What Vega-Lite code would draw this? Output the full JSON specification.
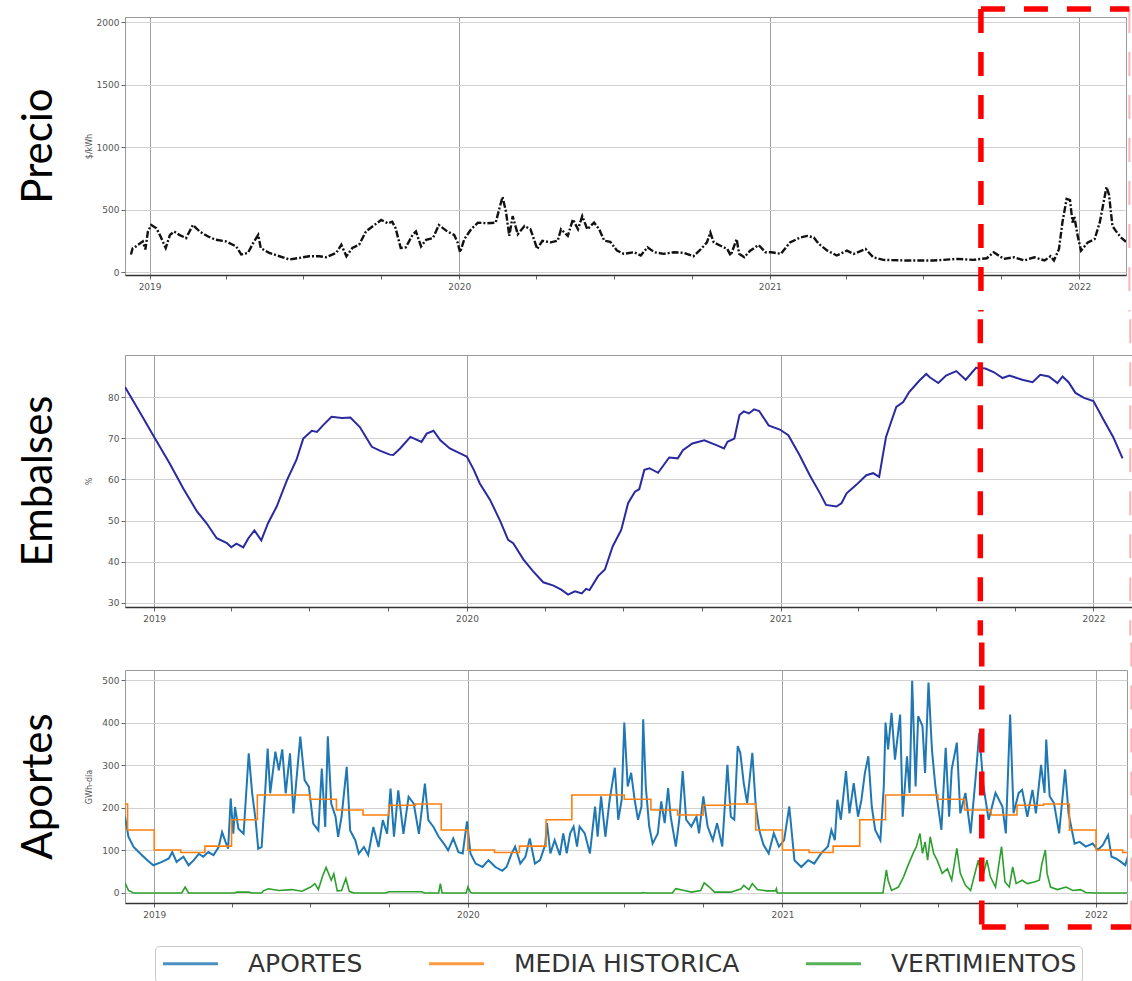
{
  "$schema": "https://vega.github.io/schema/vega-lite/v6.json",
  "background": "white",
  "padding": {"left": 17, "top": 5, "right": 0, "bottom": 0},
  "spacing": 0,
  "config": {
    "view": {"stroke": "#9a9a9a", "strokeWidth": 1},
    "axis": {"labelFont": "DejaVu Sans", "labelFontSize": 9, "labelColor": "#555", "tickColor": "#666", "tickSize": 4, "gridColor": "#d2d2d2", "domain": false, "titleFont": "DejaVu Sans", "titleFontSize": 8, "titleFontWeight": "normal", "titleColor": "#555"},
    "title": {"font": "Lato", "fontSize": 42, "fontWeight": "normal", "color": "#000"}
  },
  "datasets": {
    "precio": [
      {"fecha": "2018-12-10", "valor": 140}, {"fecha": "2018-12-12", "valor": 190}, {"fecha": "2018-12-16", "valor": 205}, {"fecha": "2018-12-24", "valor": 245}, {"fecha": "2018-12-27", "valor": 180}, {"fecha": "2018-12-30", "valor": 324},
      {"fecha": "2019-01-03", "valor": 376}, {"fecha": "2019-01-09", "valor": 350}, {"fecha": "2019-01-13", "valor": 297}, {"fecha": "2019-01-20", "valor": 192}, {"fecha": "2019-01-25", "valor": 297}, {"fecha": "2019-01-30", "valor": 324},
      {"fecha": "2019-02-05", "valor": 297}, {"fecha": "2019-02-13", "valor": 271}, {"fecha": "2019-02-21", "valor": 376}, {"fecha": "2019-03-01", "valor": 324}, {"fecha": "2019-03-11", "valor": 284}, {"fecha": "2019-03-20", "valor": 258},
      {"fecha": "2019-04-01", "valor": 245}, {"fecha": "2019-04-13", "valor": 205}, {"fecha": "2019-04-19", "valor": 140}, {"fecha": "2019-04-27", "valor": 153}, {"fecha": "2019-05-03", "valor": 231}, {"fecha": "2019-05-09", "valor": 297},
      {"fecha": "2019-05-12", "valor": 192}, {"fecha": "2019-05-22", "valor": 153}, {"fecha": "2019-06-03", "valor": 126}, {"fecha": "2019-06-15", "valor": 100}, {"fecha": "2019-06-27", "valor": 113}, {"fecha": "2019-07-08", "valor": 126},
      {"fecha": "2019-07-20", "valor": 126}, {"fecha": "2019-07-28", "valor": 118}, {"fecha": "2019-08-09", "valor": 153}, {"fecha": "2019-08-15", "valor": 218}, {"fecha": "2019-08-21", "valor": 126}, {"fecha": "2019-08-28", "valor": 192},
      {"fecha": "2019-09-05", "valor": 218}, {"fecha": "2019-09-13", "valor": 324}, {"fecha": "2019-09-23", "valor": 376}, {"fecha": "2019-10-01", "valor": 416}, {"fecha": "2019-10-09", "valor": 389}, {"fecha": "2019-10-14", "valor": 402},
      {"fecha": "2019-10-18", "valor": 350}, {"fecha": "2019-10-24", "valor": 192}, {"fecha": "2019-10-30", "valor": 197}, {"fecha": "2019-11-07", "valor": 297}, {"fecha": "2019-11-11", "valor": 324}, {"fecha": "2019-11-17", "valor": 205},
      {"fecha": "2019-11-23", "valor": 258}, {"fecha": "2019-12-01", "valor": 271}, {"fecha": "2019-12-08", "valor": 376}, {"fecha": "2019-12-18", "valor": 324}, {"fecha": "2019-12-26", "valor": 297}, {"fecha": "2019-12-30", "valor": 237},
      {"fecha": "2020-01-02", "valor": 158}, {"fecha": "2020-01-07", "valor": 263}, {"fecha": "2020-01-15", "valor": 342}, {"fecha": "2020-01-23", "valor": 395}, {"fecha": "2020-02-03", "valor": 390}, {"fecha": "2020-02-13", "valor": 395},
      {"fecha": "2020-02-17", "valor": 500}, {"fecha": "2020-02-21", "valor": 600}, {"fecha": "2020-02-25", "valor": 487}, {"fecha": "2020-02-29", "valor": 289}, {"fecha": "2020-03-04", "valor": 447}, {"fecha": "2020-03-10", "valor": 302},
      {"fecha": "2020-03-18", "valor": 368}, {"fecha": "2020-03-25", "valor": 342}, {"fecha": "2020-04-02", "valor": 184}, {"fecha": "2020-04-08", "valor": 250}, {"fecha": "2020-04-18", "valor": 237}, {"fecha": "2020-04-26", "valor": 250},
      {"fecha": "2020-04-30", "valor": 342}, {"fecha": "2020-05-08", "valor": 289}, {"fecha": "2020-05-14", "valor": 421}, {"fecha": "2020-05-20", "valor": 342}, {"fecha": "2020-05-25", "valor": 447}, {"fecha": "2020-05-31", "valor": 342},
      {"fecha": "2020-06-08", "valor": 395}, {"fecha": "2020-06-14", "valor": 342}, {"fecha": "2020-06-20", "valor": 250}, {"fecha": "2020-06-27", "valor": 242}, {"fecha": "2020-07-05", "valor": 171}, {"fecha": "2020-07-13", "valor": 145},
      {"fecha": "2020-07-25", "valor": 158}, {"fecha": "2020-08-02", "valor": 132}, {"fecha": "2020-08-10", "valor": 197}, {"fecha": "2020-08-18", "valor": 158}, {"fecha": "2020-08-29", "valor": 145}, {"fecha": "2020-09-10", "valor": 158},
      {"fecha": "2020-09-22", "valor": 153}, {"fecha": "2020-10-03", "valor": 126}, {"fecha": "2020-10-12", "valor": 184}, {"fecha": "2020-10-19", "valor": 237}, {"fecha": "2020-10-23", "valor": 316}, {"fecha": "2020-10-27", "valor": 237},
      {"fecha": "2020-11-04", "valor": 210}, {"fecha": "2020-11-12", "valor": 184}, {"fecha": "2020-11-16", "valor": 132}, {"fecha": "2020-11-23", "valor": 263}, {"fecha": "2020-11-26", "valor": 145}, {"fecha": "2020-12-02", "valor": 118},
      {"fecha": "2020-12-09", "valor": 171}, {"fecha": "2020-12-19", "valor": 216}, {"fecha": "2020-12-27", "valor": 158}, {"fecha": "2021-01-03", "valor": 158}, {"fecha": "2021-01-14", "valor": 145}, {"fecha": "2021-01-25", "valor": 237},
      {"fecha": "2021-02-06", "valor": 276}, {"fecha": "2021-02-14", "valor": 289}, {"fecha": "2021-02-22", "valor": 276}, {"fecha": "2021-02-28", "valor": 224}, {"fecha": "2021-03-10", "valor": 171}, {"fecha": "2021-03-21", "valor": 132},
      {"fecha": "2021-04-02", "valor": 171}, {"fecha": "2021-04-10", "valor": 145}, {"fecha": "2021-04-24", "valor": 184}, {"fecha": "2021-05-03", "valor": 118}, {"fecha": "2021-05-15", "valor": 97}, {"fecha": "2021-06-12", "valor": 92},
      {"fecha": "2021-07-13", "valor": 92}, {"fecha": "2021-08-10", "valor": 105}, {"fecha": "2021-08-29", "valor": 97}, {"fecha": "2021-09-14", "valor": 110}, {"fecha": "2021-09-22", "valor": 158}, {"fecha": "2021-10-04", "valor": 105},
      {"fecha": "2021-10-16", "valor": 118}, {"fecha": "2021-10-28", "valor": 92}, {"fecha": "2021-11-09", "valor": 118}, {"fecha": "2021-11-21", "valor": 92}, {"fecha": "2021-11-28", "valor": 126}, {"fecha": "2021-12-02", "valor": 92},
      {"fecha": "2021-12-08", "valor": 184}, {"fecha": "2021-12-12", "valor": 395}, {"fecha": "2021-12-17", "valor": 585}, {"fecha": "2021-12-21", "valor": 575}, {"fecha": "2021-12-24", "valor": 395}, {"fecha": "2021-12-26", "valor": 447},
      {"fecha": "2021-12-30", "valor": 289}, {"fecha": "2022-01-03", "valor": 171}, {"fecha": "2022-01-11", "valor": 237}, {"fecha": "2022-01-19", "valor": 263}, {"fecha": "2022-01-25", "valor": 395}, {"fecha": "2022-01-28", "valor": 500},
      {"fecha": "2022-02-02", "valor": 680}, {"fecha": "2022-02-05", "valor": 618}, {"fecha": "2022-02-09", "valor": 368}, {"fecha": "2022-02-13", "valor": 329}, {"fecha": "2022-02-19", "valor": 276}, {"fecha": "2022-02-25", "valor": 242}
    ],
    "embalses": [
      {"fecha": "2018-11-28", "valor": 82.4}, {"fecha": "2018-12-15", "valor": 76.4}, {"fecha": "2019-01-01", "valor": 70.3}, {"fecha": "2019-01-19", "valor": 63.9}, {"fecha": "2019-02-04", "valor": 57.8}, {"fecha": "2019-02-20", "valor": 52.2},
      {"fecha": "2019-03-03", "valor": 49.4}, {"fecha": "2019-03-15", "valor": 45.7}, {"fecha": "2019-03-27", "valor": 44.5}, {"fecha": "2019-04-01", "valor": 43.5}, {"fecha": "2019-04-07", "valor": 44.4}, {"fecha": "2019-04-15", "valor": 43.5},
      {"fecha": "2019-04-21", "valor": 45.7}, {"fecha": "2019-04-28", "valor": 47.6}, {"fecha": "2019-05-06", "valor": 45.2}, {"fecha": "2019-05-14", "valor": 49.4}, {"fecha": "2019-05-24", "valor": 53.4}, {"fecha": "2019-06-05", "valor": 59.8},
      {"fecha": "2019-06-16", "valor": 64.7}, {"fecha": "2019-06-24", "valor": 69.9}, {"fecha": "2019-07-04", "valor": 71.8}, {"fecha": "2019-07-10", "valor": 71.5}, {"fecha": "2019-07-17", "valor": 73.1}, {"fecha": "2019-07-27", "valor": 75.2},
      {"fecha": "2019-08-08", "valor": 74.9}, {"fecha": "2019-08-18", "valor": 75.0}, {"fecha": "2019-08-29", "valor": 72.7}, {"fecha": "2019-09-12", "valor": 67.9}, {"fecha": "2019-09-22", "valor": 66.9}, {"fecha": "2019-10-03", "valor": 66.0},
      {"fecha": "2019-10-07", "valor": 65.9}, {"fecha": "2019-10-15", "valor": 67.5}, {"fecha": "2019-10-27", "valor": 70.3}, {"fecha": "2019-11-09", "valor": 69.1}, {"fecha": "2019-11-15", "valor": 71.1}, {"fecha": "2019-11-23", "valor": 71.8},
      {"fecha": "2019-12-01", "valor": 69.5}, {"fecha": "2019-12-12", "valor": 67.5}, {"fecha": "2019-12-24", "valor": 66.3}, {"fecha": "2020-01-01", "valor": 65.5}, {"fecha": "2020-01-09", "valor": 62.3}, {"fecha": "2020-01-16", "valor": 59.0},
      {"fecha": "2020-01-28", "valor": 55.0}, {"fecha": "2020-02-09", "valor": 49.8}, {"fecha": "2020-02-18", "valor": 45.3}, {"fecha": "2020-02-24", "valor": 44.5}, {"fecha": "2020-03-07", "valor": 40.5}, {"fecha": "2020-03-18", "valor": 37.7},
      {"fecha": "2020-03-30", "valor": 35.0}, {"fecha": "2020-04-11", "valor": 34.2}, {"fecha": "2020-04-20", "valor": 33.2}, {"fecha": "2020-04-28", "valor": 32.0}, {"fecha": "2020-05-06", "valor": 32.8}, {"fecha": "2020-05-14", "valor": 32.3},
      {"fecha": "2020-05-19", "valor": 33.4}, {"fecha": "2020-05-23", "valor": 33.1}, {"fecha": "2020-06-02", "valor": 36.5}, {"fecha": "2020-06-10", "valor": 38.1}, {"fecha": "2020-06-19", "valor": 43.7}, {"fecha": "2020-06-29", "valor": 47.7},
      {"fecha": "2020-07-07", "valor": 54.2}, {"fecha": "2020-07-15", "valor": 57.0}, {"fecha": "2020-07-20", "valor": 57.6}, {"fecha": "2020-07-26", "valor": 62.3}, {"fecha": "2020-08-01", "valor": 62.7}, {"fecha": "2020-08-11", "valor": 61.6},
      {"fecha": "2020-08-24", "valor": 65.3}, {"fecha": "2020-09-03", "valor": 65.1}, {"fecha": "2020-09-09", "valor": 67.1}, {"fecha": "2020-09-20", "valor": 68.7}, {"fecha": "2020-10-04", "valor": 69.5}, {"fecha": "2020-10-18", "valor": 68.3},
      {"fecha": "2020-10-27", "valor": 67.5}, {"fecha": "2020-10-31", "valor": 69.1}, {"fecha": "2020-11-08", "valor": 69.9}, {"fecha": "2020-11-14", "valor": 75.6}, {"fecha": "2020-11-19", "valor": 76.5}, {"fecha": "2020-11-25", "valor": 76.0},
      {"fecha": "2020-12-01", "valor": 77.0}, {"fecha": "2020-12-07", "valor": 76.6}, {"fecha": "2020-12-18", "valor": 73.1}, {"fecha": "2020-12-31", "valor": 72.1}, {"fecha": "2021-01-10", "valor": 70.7}, {"fecha": "2021-01-23", "valor": 65.9},
      {"fecha": "2021-02-04", "valor": 61.0}, {"fecha": "2021-02-16", "valor": 56.6}, {"fecha": "2021-02-23", "valor": 53.8}, {"fecha": "2021-03-07", "valor": 53.4}, {"fecha": "2021-03-13", "valor": 54.2}, {"fecha": "2021-03-19", "valor": 56.6},
      {"fecha": "2021-03-30", "valor": 58.6}, {"fecha": "2021-04-11", "valor": 61.0}, {"fecha": "2021-04-19", "valor": 61.5}, {"fecha": "2021-04-26", "valor": 60.6}, {"fecha": "2021-04-30", "valor": 65.5}, {"fecha": "2021-05-04", "valor": 70.3},
      {"fecha": "2021-05-10", "valor": 74.0}, {"fecha": "2021-05-16", "valor": 77.6}, {"fecha": "2021-05-24", "valor": 78.8}, {"fecha": "2021-05-31", "valor": 81.2}, {"fecha": "2021-06-12", "valor": 84.0}, {"fecha": "2021-06-20", "valor": 85.6},
      {"fecha": "2021-06-24", "valor": 84.8}, {"fecha": "2021-07-04", "valor": 83.4}, {"fecha": "2021-07-13", "valor": 85.2}, {"fecha": "2021-07-25", "valor": 86.3}, {"fecha": "2021-08-05", "valor": 84.2}, {"fecha": "2021-08-17", "valor": 87.1},
      {"fecha": "2021-08-28", "valor": 86.9}, {"fecha": "2021-09-07", "valor": 86.0}, {"fecha": "2021-09-17", "valor": 84.6}, {"fecha": "2021-09-25", "valor": 85.2}, {"fecha": "2021-10-10", "valor": 84.2}, {"fecha": "2021-10-22", "valor": 83.6},
      {"fecha": "2021-10-31", "valor": 85.4}, {"fecha": "2021-11-10", "valor": 85.0}, {"fecha": "2021-11-20", "valor": 83.4}, {"fecha": "2021-11-26", "valor": 85.0}, {"fecha": "2021-12-03", "valor": 83.6}, {"fecha": "2021-12-11", "valor": 81.0},
      {"fecha": "2021-12-21", "valor": 79.8}, {"fecha": "2022-01-01", "valor": 79.0}, {"fecha": "2022-01-12", "valor": 74.8}, {"fecha": "2022-01-24", "valor": 70.3}, {"fecha": "2022-02-04", "valor": 65.1}
    ],
    "aportes": [
      {"fecha": "2018-11-28", "valor": 179}, {"fecha": "2018-12-02", "valor": 132}, {"fecha": "2018-12-08", "valor": 108}, {"fecha": "2018-12-16", "valor": 92}, {"fecha": "2018-12-24", "valor": 77}, {"fecha": "2018-12-31", "valor": 65},
      {"fecha": "2019-01-10", "valor": 73}, {"fecha": "2019-01-18", "valor": 81}, {"fecha": "2019-01-22", "valor": 96}, {"fecha": "2019-01-27", "valor": 73}, {"fecha": "2019-02-04", "valor": 85}, {"fecha": "2019-02-10", "valor": 65},
      {"fecha": "2019-02-16", "valor": 77}, {"fecha": "2019-02-22", "valor": 92}, {"fecha": "2019-02-27", "valor": 85}, {"fecha": "2019-03-05", "valor": 96}, {"fecha": "2019-03-11", "valor": 89}, {"fecha": "2019-03-17", "valor": 108},
      {"fecha": "2019-03-21", "valor": 143}, {"fecha": "2019-03-25", "valor": 120}, {"fecha": "2019-03-28", "valor": 104}, {"fecha": "2019-03-31", "valor": 222}, {"fecha": "2019-04-03", "valor": 139}, {"fecha": "2019-04-05", "valor": 202},
      {"fecha": "2019-04-09", "valor": 151}, {"fecha": "2019-04-15", "valor": 139}, {"fecha": "2019-04-21", "valor": 328}, {"fecha": "2019-04-25", "valor": 234}, {"fecha": "2019-04-29", "valor": 171}, {"fecha": "2019-05-02", "valor": 104},
      {"fecha": "2019-05-06", "valor": 108}, {"fecha": "2019-05-10", "valor": 234}, {"fecha": "2019-05-13", "valor": 339}, {"fecha": "2019-05-16", "valor": 234}, {"fecha": "2019-05-22", "valor": 332}, {"fecha": "2019-05-26", "valor": 288},
      {"fecha": "2019-05-30", "valor": 337}, {"fecha": "2019-06-03", "valor": 234}, {"fecha": "2019-06-08", "valor": 328}, {"fecha": "2019-06-12", "valor": 187}, {"fecha": "2019-06-20", "valor": 367}, {"fecha": "2019-06-25", "valor": 265},
      {"fecha": "2019-06-30", "valor": 249}, {"fecha": "2019-07-05", "valor": 163}, {"fecha": "2019-07-11", "valor": 147}, {"fecha": "2019-07-15", "valor": 292}, {"fecha": "2019-07-19", "valor": 155}, {"fecha": "2019-07-22", "valor": 368},
      {"fecha": "2019-07-26", "valor": 210}, {"fecha": "2019-07-31", "valor": 179}, {"fecha": "2019-08-03", "valor": 132}, {"fecha": "2019-08-07", "valor": 179}, {"fecha": "2019-08-13", "valor": 296}, {"fecha": "2019-08-17", "valor": 147},
      {"fecha": "2019-08-23", "valor": 124}, {"fecha": "2019-08-27", "valor": 92}, {"fecha": "2019-09-02", "valor": 108}, {"fecha": "2019-09-07", "valor": 89}, {"fecha": "2019-09-13", "valor": 155}, {"fecha": "2019-09-19", "valor": 108},
      {"fecha": "2019-09-24", "valor": 171}, {"fecha": "2019-09-29", "valor": 139}, {"fecha": "2019-10-03", "valor": 245}, {"fecha": "2019-10-07", "valor": 132}, {"fecha": "2019-10-12", "valor": 241}, {"fecha": "2019-10-18", "valor": 139},
      {"fecha": "2019-10-24", "valor": 226}, {"fecha": "2019-10-30", "valor": 210}, {"fecha": "2019-11-05", "valor": 139}, {"fecha": "2019-11-12", "valor": 257}, {"fecha": "2019-11-16", "valor": 171}, {"fecha": "2019-11-22", "valor": 155},
      {"fecha": "2019-11-28", "valor": 132}, {"fecha": "2019-12-04", "valor": 116}, {"fecha": "2019-12-09", "valor": 100}, {"fecha": "2019-12-15", "valor": 128}, {"fecha": "2019-12-21", "valor": 96}, {"fecha": "2019-12-26", "valor": 93},
      {"fecha": "2019-12-31", "valor": 168}, {"fecha": "2020-01-04", "valor": 93}, {"fecha": "2020-01-10", "valor": 69}, {"fecha": "2020-01-18", "valor": 61}, {"fecha": "2020-01-25", "valor": 77}, {"fecha": "2020-02-02", "valor": 61},
      {"fecha": "2020-02-10", "valor": 52}, {"fecha": "2020-02-15", "valor": 61}, {"fecha": "2020-02-21", "valor": 93}, {"fecha": "2020-02-25", "valor": 109}, {"fecha": "2020-03-02", "valor": 69}, {"fecha": "2020-03-08", "valor": 85},
      {"fecha": "2020-03-13", "valor": 128}, {"fecha": "2020-03-19", "valor": 69}, {"fecha": "2020-03-25", "valor": 77}, {"fecha": "2020-03-31", "valor": 113}, {"fecha": "2020-04-02", "valor": 164}, {"fecha": "2020-04-06", "valor": 93},
      {"fecha": "2020-04-11", "valor": 124}, {"fecha": "2020-04-17", "valor": 89}, {"fecha": "2020-04-21", "valor": 140}, {"fecha": "2020-04-25", "valor": 93}, {"fecha": "2020-04-29", "valor": 140}, {"fecha": "2020-05-03", "valor": 156},
      {"fecha": "2020-05-07", "valor": 109}, {"fecha": "2020-05-10", "valor": 156}, {"fecha": "2020-05-16", "valor": 140}, {"fecha": "2020-05-22", "valor": 93}, {"fecha": "2020-05-28", "valor": 203}, {"fecha": "2020-05-31", "valor": 132},
      {"fecha": "2020-06-04", "valor": 227}, {"fecha": "2020-06-09", "valor": 132}, {"fecha": "2020-06-14", "valor": 219}, {"fecha": "2020-06-20", "valor": 294}, {"fecha": "2020-06-24", "valor": 172}, {"fecha": "2020-06-28", "valor": 219},
      {"fecha": "2020-07-01", "valor": 400}, {"fecha": "2020-07-05", "valor": 250}, {"fecha": "2020-07-09", "valor": 282}, {"fecha": "2020-07-13", "valor": 219}, {"fecha": "2020-07-17", "valor": 172}, {"fecha": "2020-07-21", "valor": 203},
      {"fecha": "2020-07-23", "valor": 408}, {"fecha": "2020-07-26", "valor": 250}, {"fecha": "2020-07-30", "valor": 156}, {"fecha": "2020-08-03", "valor": 116}, {"fecha": "2020-08-09", "valor": 140}, {"fecha": "2020-08-13", "valor": 215},
      {"fecha": "2020-08-17", "valor": 164}, {"fecha": "2020-08-21", "valor": 246}, {"fecha": "2020-08-24", "valor": 179}, {"fecha": "2020-08-30", "valor": 109}, {"fecha": "2020-09-03", "valor": 172}, {"fecha": "2020-09-07", "valor": 286},
      {"fecha": "2020-09-11", "valor": 172}, {"fecha": "2020-09-17", "valor": 156}, {"fecha": "2020-09-23", "valor": 179}, {"fecha": "2020-09-26", "valor": 140}, {"fecha": "2020-10-01", "valor": 227}, {"fecha": "2020-10-06", "valor": 156},
      {"fecha": "2020-10-12", "valor": 124}, {"fecha": "2020-10-17", "valor": 164}, {"fecha": "2020-10-23", "valor": 109}, {"fecha": "2020-10-29", "valor": 301}, {"fecha": "2020-11-02", "valor": 179}, {"fecha": "2020-11-06", "valor": 172},
      {"fecha": "2020-11-10", "valor": 345}, {"fecha": "2020-11-13", "valor": 329}, {"fecha": "2020-11-17", "valor": 258}, {"fecha": "2020-11-21", "valor": 211}, {"fecha": "2020-11-27", "valor": 329}, {"fecha": "2020-12-01", "valor": 203},
      {"fecha": "2020-12-05", "valor": 148}, {"fecha": "2020-12-10", "valor": 113}, {"fecha": "2020-12-16", "valor": 93}, {"fecha": "2020-12-22", "valor": 140}, {"fecha": "2020-12-28", "valor": 109}, {"fecha": "2021-01-03", "valor": 124},
      {"fecha": "2021-01-09", "valor": 203}, {"fecha": "2021-01-15", "valor": 77}, {"fecha": "2021-01-23", "valor": 61}, {"fecha": "2021-01-31", "valor": 77}, {"fecha": "2021-02-07", "valor": 69}, {"fecha": "2021-02-15", "valor": 93},
      {"fecha": "2021-02-23", "valor": 109}, {"fecha": "2021-02-27", "valor": 148}, {"fecha": "2021-03-03", "valor": 124}, {"fecha": "2021-03-06", "valor": 219}, {"fecha": "2021-03-10", "valor": 172}, {"fecha": "2021-03-16", "valor": 286},
      {"fecha": "2021-03-20", "valor": 187}, {"fecha": "2021-03-25", "valor": 258}, {"fecha": "2021-03-30", "valor": 179}, {"fecha": "2021-04-03", "valor": 219}, {"fecha": "2021-04-07", "valor": 282}, {"fecha": "2021-04-11", "valor": 321},
      {"fecha": "2021-04-15", "valor": 203}, {"fecha": "2021-04-19", "valor": 148}, {"fecha": "2021-04-25", "valor": 124}, {"fecha": "2021-04-29", "valor": 250}, {"fecha": "2021-05-01", "valor": 400}, {"fecha": "2021-05-04", "valor": 337},
      {"fecha": "2021-05-08", "valor": 423}, {"fecha": "2021-05-12", "valor": 313}, {"fecha": "2021-05-18", "valor": 419}, {"fecha": "2021-05-21", "valor": 179}, {"fecha": "2021-05-26", "valor": 321}, {"fecha": "2021-05-29", "valor": 235},
      {"fecha": "2021-06-01", "valor": 498}, {"fecha": "2021-06-05", "valor": 250}, {"fecha": "2021-06-08", "valor": 415}, {"fecha": "2021-06-13", "valor": 392}, {"fecha": "2021-06-16", "valor": 282}, {"fecha": "2021-06-20", "valor": 494},
      {"fecha": "2021-06-24", "valor": 337}, {"fecha": "2021-06-28", "valor": 250}, {"fecha": "2021-07-05", "valor": 148}, {"fecha": "2021-07-10", "valor": 341}, {"fecha": "2021-07-14", "valor": 179}, {"fecha": "2021-07-17", "valor": 290},
      {"fecha": "2021-07-23", "valor": 353}, {"fecha": "2021-07-27", "valor": 187}, {"fecha": "2021-08-02", "valor": 235}, {"fecha": "2021-08-08", "valor": 140}, {"fecha": "2021-08-14", "valor": 274}, {"fecha": "2021-08-18", "valor": 376},
      {"fecha": "2021-08-23", "valor": 250}, {"fecha": "2021-08-29", "valor": 172}, {"fecha": "2021-09-06", "valor": 235}, {"fecha": "2021-09-14", "valor": 203}, {"fecha": "2021-09-18", "valor": 140}, {"fecha": "2021-09-23", "valor": 419},
      {"fecha": "2021-09-27", "valor": 187}, {"fecha": "2021-10-03", "valor": 235}, {"fecha": "2021-10-07", "valor": 242}, {"fecha": "2021-10-13", "valor": 179}, {"fecha": "2021-10-19", "valor": 242}, {"fecha": "2021-10-23", "valor": 187},
      {"fecha": "2021-10-29", "valor": 301}, {"fecha": "2021-11-02", "valor": 235}, {"fecha": "2021-11-04", "valor": 360}, {"fecha": "2021-11-08", "valor": 227}, {"fecha": "2021-11-13", "valor": 211}, {"fecha": "2021-11-19", "valor": 140},
      {"fecha": "2021-11-26", "valor": 290}, {"fecha": "2021-11-30", "valor": 187}, {"fecha": "2021-12-07", "valor": 116}, {"fecha": "2021-12-13", "valor": 120}, {"fecha": "2021-12-20", "valor": 109}, {"fecha": "2021-12-28", "valor": 116},
      {"fecha": "2022-01-03", "valor": 101}, {"fecha": "2022-01-09", "valor": 113}, {"fecha": "2022-01-15", "valor": 136}, {"fecha": "2022-01-19", "valor": 85}, {"fecha": "2022-01-24", "valor": 81}, {"fecha": "2022-01-30", "valor": 73},
      {"fecha": "2022-02-04", "valor": 65}, {"fecha": "2022-02-08", "valor": 93}
    ],
    "media": [
      {"fecha": "2018-11-28", "valor": 209}, {"fecha": "2018-12-01", "valor": 148},
      {"fecha": "2019-01-01", "valor": 101}, {"fecha": "2019-02-01", "valor": 95}, {"fecha": "2019-03-01", "valor": 110}, {"fecha": "2019-04-01", "valor": 172}, {"fecha": "2019-05-01", "valor": 230}, {"fecha": "2019-06-01", "valor": 230},
      {"fecha": "2019-07-01", "valor": 220}, {"fecha": "2019-08-01", "valor": 195}, {"fecha": "2019-09-01", "valor": 183}, {"fecha": "2019-10-01", "valor": 206}, {"fecha": "2019-11-01", "valor": 209}, {"fecha": "2019-12-01", "valor": 148},
      {"fecha": "2020-01-01", "valor": 101}, {"fecha": "2020-02-01", "valor": 95}, {"fecha": "2020-03-01", "valor": 110}, {"fecha": "2020-04-01", "valor": 172}, {"fecha": "2020-05-01", "valor": 230}, {"fecha": "2020-06-01", "valor": 230},
      {"fecha": "2020-07-01", "valor": 220}, {"fecha": "2020-08-01", "valor": 195}, {"fecha": "2020-09-01", "valor": 183}, {"fecha": "2020-10-01", "valor": 206}, {"fecha": "2020-11-01", "valor": 209}, {"fecha": "2020-12-01", "valor": 148},
      {"fecha": "2021-01-01", "valor": 101}, {"fecha": "2021-02-01", "valor": 95}, {"fecha": "2021-03-01", "valor": 110}, {"fecha": "2021-04-01", "valor": 172}, {"fecha": "2021-05-01", "valor": 230}, {"fecha": "2021-06-01", "valor": 230},
      {"fecha": "2021-07-01", "valor": 220}, {"fecha": "2021-08-01", "valor": 195}, {"fecha": "2021-09-01", "valor": 183}, {"fecha": "2021-10-01", "valor": 206}, {"fecha": "2021-11-01", "valor": 209}, {"fecha": "2021-12-01", "valor": 148},
      {"fecha": "2022-01-01", "valor": 101}, {"fecha": "2022-02-01", "valor": 95}, {"fecha": "2022-02-08", "valor": 95}
    ],
    "vertimientos": [
      {"fecha": "2018-11-28", "valor": 24}, {"fecha": "2018-12-02", "valor": 6}, {"fecha": "2018-12-08", "valor": 0}, {"fecha": "2019-02-02", "valor": 0}, {"fecha": "2019-02-06", "valor": 14}, {"fecha": "2019-02-10", "valor": 0},
      {"fecha": "2019-04-05", "valor": 0}, {"fecha": "2019-04-07", "valor": 2}, {"fecha": "2019-04-21", "valor": 2}, {"fecha": "2019-04-25", "valor": 0}, {"fecha": "2019-05-06", "valor": 0}, {"fecha": "2019-05-08", "valor": 5},
      {"fecha": "2019-05-14", "valor": 10}, {"fecha": "2019-05-26", "valor": 6}, {"fecha": "2019-06-10", "valor": 8}, {"fecha": "2019-06-22", "valor": 4}, {"fecha": "2019-07-02", "valor": 14}, {"fecha": "2019-07-07", "valor": 22},
      {"fecha": "2019-07-11", "valor": 8}, {"fecha": "2019-07-16", "valor": 40}, {"fecha": "2019-07-20", "valor": 60}, {"fecha": "2019-07-23", "valor": 45}, {"fecha": "2019-07-26", "valor": 30}, {"fecha": "2019-07-29", "valor": 45},
      {"fecha": "2019-08-02", "valor": 5}, {"fecha": "2019-08-07", "valor": 6}, {"fecha": "2019-08-12", "valor": 34}, {"fecha": "2019-08-16", "valor": 4}, {"fecha": "2019-08-21", "valor": 0}, {"fecha": "2019-09-27", "valor": 0},
      {"fecha": "2019-10-01", "valor": 3}, {"fecha": "2019-11-08", "valor": 3}, {"fecha": "2019-11-12", "valor": 0}, {"fecha": "2019-11-28", "valor": 0}, {"fecha": "2019-11-30", "valor": 22}, {"fecha": "2019-12-02", "valor": 0},
      {"fecha": "2019-12-30", "valor": 0}, {"fecha": "2020-01-01", "valor": 14}, {"fecha": "2020-01-04", "valor": 2}, {"fecha": "2020-01-06", "valor": 0}, {"fecha": "2020-07-21", "valor": 0}, {"fecha": "2020-07-23", "valor": 1},
      {"fecha": "2020-07-26", "valor": 0}, {"fecha": "2020-08-26", "valor": 0}, {"fecha": "2020-08-28", "valor": 6}, {"fecha": "2020-08-30", "valor": 10}, {"fecha": "2020-09-09", "valor": 6}, {"fecha": "2020-09-17", "valor": 2},
      {"fecha": "2020-09-28", "valor": 6}, {"fecha": "2020-10-02", "valor": 24}, {"fecha": "2020-10-08", "valor": 14}, {"fecha": "2020-10-14", "valor": 2}, {"fecha": "2020-11-02", "valor": 2}, {"fecha": "2020-11-14", "valor": 10},
      {"fecha": "2020-11-17", "valor": 18}, {"fecha": "2020-11-23", "valor": 8}, {"fecha": "2020-11-27", "valor": 22}, {"fecha": "2020-12-03", "valor": 8}, {"fecha": "2020-12-14", "valor": 5}, {"fecha": "2020-12-24", "valor": 5},
      {"fecha": "2020-12-25", "valor": 10}, {"fecha": "2020-12-26", "valor": 0}, {"fecha": "2021-04-28", "valor": 0}, {"fecha": "2021-05-02", "valor": 54}, {"fecha": "2021-05-04", "valor": 30}, {"fecha": "2021-05-08", "valor": 6},
      {"fecha": "2021-05-16", "valor": 14}, {"fecha": "2021-05-22", "valor": 38}, {"fecha": "2021-05-28", "valor": 69}, {"fecha": "2021-06-03", "valor": 97}, {"fecha": "2021-06-06", "valor": 109}, {"fecha": "2021-06-10", "valor": 140},
      {"fecha": "2021-06-13", "valor": 93}, {"fecha": "2021-06-16", "valor": 120}, {"fecha": "2021-06-19", "valor": 77}, {"fecha": "2021-06-22", "valor": 132}, {"fecha": "2021-06-26", "valor": 93}, {"fecha": "2021-06-30", "valor": 77},
      {"fecha": "2021-07-06", "valor": 46}, {"fecha": "2021-07-12", "valor": 57}, {"fecha": "2021-07-17", "valor": 30}, {"fecha": "2021-07-23", "valor": 105}, {"fecha": "2021-07-27", "valor": 46}, {"fecha": "2021-08-02", "valor": 18},
      {"fecha": "2021-08-08", "valor": 6}, {"fecha": "2021-08-12", "valor": 38}, {"fecha": "2021-08-17", "valor": 77}, {"fecha": "2021-08-21", "valor": 30}, {"fecha": "2021-08-27", "valor": 77}, {"fecha": "2021-08-31", "valor": 38},
      {"fecha": "2021-09-06", "valor": 14}, {"fecha": "2021-09-10", "valor": 69}, {"fecha": "2021-09-13", "valor": 109}, {"fecha": "2021-09-17", "valor": 26}, {"fecha": "2021-09-22", "valor": 14}, {"fecha": "2021-09-26", "valor": 61},
      {"fecha": "2021-09-30", "valor": 22}, {"fecha": "2021-10-07", "valor": 30}, {"fecha": "2021-10-13", "valor": 22}, {"fecha": "2021-10-21", "valor": 26}, {"fecha": "2021-10-27", "valor": 30}, {"fecha": "2021-10-30", "valor": 69},
      {"fecha": "2021-11-03", "valor": 101}, {"fecha": "2021-11-05", "valor": 46}, {"fecha": "2021-11-09", "valor": 14}, {"fecha": "2021-11-17", "valor": 8}, {"fecha": "2021-11-27", "valor": 14}, {"fecha": "2021-12-05", "valor": 6},
      {"fecha": "2021-12-14", "valor": 8}, {"fecha": "2021-12-20", "valor": 1}, {"fecha": "2022-01-01", "valor": 0}, {"fecha": "2022-02-08", "valor": 0}
    ]
  },
  "vconcat": [
    {
      "width": 1001,
      "height": 258,
      "title": {"text": "Precio", "orient": "left", "offset": 24},
      "layer": [
        {
          "data": {"name": "precio"},
          "mark": {"type": "line", "color": "#111111", "strokeWidth": 2.4, "strokeDash": [7, 2, 2, 2], "clip": true},
          "encoding": {
            "x": {"field": "fecha", "type": "temporal", "scale": {"type": "utc", "domain": [{"year": 2018, "month": 12, "date": 3, "utc": true}, {"year": 2022, "month": 2, "date": 25, "utc": true}]},
              "axis": {"title": null, "tickCount": {"interval": "month", "step": 3}, "labelExpr": "utcmonth(datum.value) == 0 ? utcFormat(datum.value, '%Y') : ''", "grid": true, "gridColor": "#a0a0a0", "gridOpacity": {"condition": {"test": "utcmonth(datum.value) == 0", "value": 1}, "value": 0}, "domain": true, "domainColor": "#333", "domainWidth": 1.5, "labelPadding": 3, "labelFlush": false}},
            "y": {"field": "valor", "type": "quantitative", "title": "$/kWh", "scale": {"domain": [-24, 2040], "nice": false, "zero": false},
              "axis": {"values": [0, 250, 500, 750, 1000, 1250, 1500, 1750, 2000], "format": "d", "minExtent": 28, "maxExtent": 28, "titlePadding": 4}}
          }
        },
        {
          "data": {"values": [{"fecha": "2021-09-07", "valor": 2104, "valor2": -316}]},
          "mark": {"type": "rule", "color": "#ff0000", "strokeWidth": 5.5, "strokeDash": [24, 19]},
          "encoding": {"x": {"field": "fecha", "type": "temporal"}, "y": {"field": "valor", "type": "quantitative", "title": "$/kWh"}, "y2": {"field": "valor2"}}
        },
        {
          "data": {"values": [{"fecha": "2021-09-07", "fecha2": "2022-03-01", "valor": 2104}]},
          "mark": {"type": "rule", "color": "#ff0000", "strokeWidth": 5.5, "strokeDash": [24, 19]},
          "encoding": {"x": {"field": "fecha", "type": "temporal"}, "x2": {"field": "fecha2"}, "y": {"field": "valor", "type": "quantitative", "title": "$/kWh"}}
        },
        {
          "data": {"values": [{"fecha": "2022-03-01", "valor": 2104, "valor2": -316}]},
          "mark": {"type": "rule", "color": "#ff0000", "strokeWidth": 2, "opacity": 0.3, "strokeDash": [24, 19]},
          "encoding": {"x": {"field": "fecha", "type": "temporal"}, "y": {"field": "valor", "type": "quantitative", "title": "$/kWh"}, "y2": {"field": "valor2"}}
        }
      ]
    },
    {
      "width": 1007,
      "height": 252,
      "title": {"text": "Embalses", "orient": "left", "offset": 24},
      "layer": [
        {
          "data": {"name": "embalses"},
          "mark": {"type": "line", "color": "#2a2aa0", "strokeWidth": 2, "clip": true},
          "encoding": {
            "x": {"field": "fecha", "type": "temporal", "scale": {"type": "utc", "domain": [{"year": 2018, "month": 11, "date": 28, "utc": true}, {"year": 2022, "month": 2, "date": 15, "utc": true}]},
              "axis": {"title": null, "tickCount": {"interval": "month", "step": 3}, "labelExpr": "utcmonth(datum.value) == 0 ? utcFormat(datum.value, '%Y') : ''", "grid": true, "gridColor": "#a0a0a0", "gridOpacity": {"condition": {"test": "utcmonth(datum.value) == 0", "value": 1}, "value": 0}, "domain": true, "domainColor": "#333", "domainWidth": 1.5, "labelPadding": 3, "labelFlush": false}},
            "y": {"field": "valor", "type": "quantitative", "title": "%", "scale": {"domain": [29, 90.2], "nice": false, "zero": false},
              "axis": {"values": [30, 40, 50, 60, 70, 80], "minExtent": 28, "maxExtent": 28, "titlePadding": 4}}
          }
        },
        {
          "data": {"values": [{"fecha": "2021-08-22", "valor": 98.9, "valor2": 22.1}]},
          "mark": {"type": "rule", "color": "#ff0000", "strokeWidth": 5.5, "strokeDash": [24, 19]},
          "encoding": {"x": {"field": "fecha", "type": "temporal"}, "y": {"field": "valor", "type": "quantitative", "title": "%"}, "y2": {"field": "valor2"}}
        },
        {
          "data": {"values": [{"fecha": "2022-02-13", "valor": 98.9, "valor2": 22.1}]},
          "mark": {"type": "rule", "color": "#ff0000", "strokeWidth": 2, "opacity": 0.3, "strokeDash": [24, 19]},
          "encoding": {"x": {"field": "fecha", "type": "temporal"}, "y": {"field": "valor", "type": "quantitative", "title": "%"}, "y2": {"field": "valor2"}}
        }
      ]
    },
    {
      "width": 1002,
      "height": 233,
      "title": {"text": "Aportes", "orient": "left", "offset": 24},
      "layer": [
        {
          "data": {"name": "aportes"},
          "mark": {"type": "line", "strokeWidth": 2, "clip": true},
          "encoding": {
            "x": {"field": "fecha", "type": "temporal", "scale": {"type": "utc", "domain": [{"year": 2018, "month": 11, "date": 28, "utc": true}, {"year": 2022, "month": 2, "date": 6, "utc": true}]},
              "axis": {"title": null, "tickCount": {"interval": "month", "step": 3}, "labelExpr": "utcmonth(datum.value) == 0 ? utcFormat(datum.value, '%Y') : ''", "grid": true, "gridColor": "#a0a0a0", "gridOpacity": {"condition": {"test": "utcmonth(datum.value) == 0", "value": 1}, "value": 0}, "domain": true, "domainColor": "#333", "domainWidth": 1.5, "labelPadding": 3, "labelFlush": false}},
            "y": {"field": "valor", "type": "quantitative", "title": "GWh-día", "scale": {"domain": [-23.5, 523.5], "nice": false, "zero": false},
              "axis": {"values": [0, 100, 200, 300, 400, 500], "minExtent": 28, "maxExtent": 28, "titlePadding": 4}},
            "color": {"datum": "APORTES", "type": "nominal",
              "scale": {"domain": ["APORTES", "MEDIA HISTORICA", "VERTIMIENTOS"], "range": ["#1f77b4", "#ff7f0e", "#2ca02c"]},
              "legend": {"orient": "none", "legendX": 30, "legendY": 929, "direction": "horizontal", "title": null, "symbolType": "M-3,0L3,0", "symbolSize": 336, "symbolOffset": 18, "symbolStrokeWidth": 3, "symbolOpacity": 0.8, "labelFont": "DejaVu Sans", "labelFontSize": 25, "labelColor": "#333", "labelOffset": 45, "columnPadding": 60, "strokeColor": "#c8c8c8", "fillColor": "white", "padding": 5, "cornerRadius": 4, "labelLimit": 400}}
          }
        },
        {
          "data": {"name": "media"},
          "mark": {"type": "line", "strokeWidth": 1.6, "interpolate": "step-after", "clip": true},
          "encoding": {
            "x": {"field": "fecha", "type": "temporal"},
            "y": {"field": "valor", "type": "quantitative", "title": "GWh-día"},
            "color": {"datum": "MEDIA HISTORICA", "type": "nominal"}
          }
        },
        {
          "data": {"name": "vertimientos"},
          "mark": {"type": "line", "strokeWidth": 1.6, "clip": true},
          "encoding": {
            "x": {"field": "fecha", "type": "temporal"},
            "y": {"field": "valor", "type": "quantitative", "title": "GWh-día"},
            "color": {"datum": "VERTIMIENTOS", "type": "nominal"}
          }
        },
        {
          "data": {"values": [{"fecha": "2021-08-21", "valor": 588, "valor2": -80}]},
          "mark": {"type": "rule", "color": "#ff0000", "strokeWidth": 5.5, "strokeDash": [24, 19]},
          "encoding": {"x": {"field": "fecha", "type": "temporal"}, "y": {"field": "valor", "type": "quantitative", "title": "GWh-día"}, "y2": {"field": "valor2"}}
        },
        {
          "data": {"values": [{"fecha": "2021-08-21", "fecha2": "2022-02-11", "valor": -80}]},
          "mark": {"type": "rule", "color": "#ff0000", "strokeWidth": 5.5, "strokeDash": [24, 19]},
          "encoding": {"x": {"field": "fecha", "type": "temporal"}, "x2": {"field": "fecha2"}, "y": {"field": "valor", "type": "quantitative", "title": "GWh-día"}}
        },
        {
          "data": {"values": [{"fecha": "2022-02-11", "valor": 588, "valor2": -80}]},
          "mark": {"type": "rule", "color": "#ff0000", "strokeWidth": 2, "opacity": 0.3, "strokeDash": [24, 19]},
          "encoding": {"x": {"field": "fecha", "type": "temporal"}, "y": {"field": "valor", "type": "quantitative", "title": "GWh-día"}, "y2": {"field": "valor2"}}
        }
      ]
    }
  ]
}
